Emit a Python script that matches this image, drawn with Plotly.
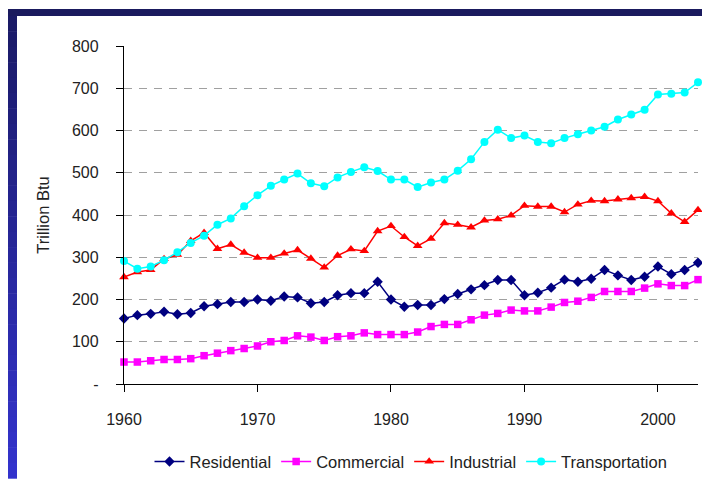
import plotly.graph_objects as go

years = list(range(1960, 2004))

residential = [155, 163, 166, 171, 165, 168, 184, 189, 194, 194,
               200, 197, 207, 205, 191, 194, 210, 215, 215, 242,
               200, 183, 187, 187, 201, 213, 224, 234, 246, 246,
               210, 216, 228, 247, 242, 249, 270, 257, 246, 254,
               278, 260, 270, 287]

commercial = [52, 52, 55, 58, 58, 60, 67, 73, 79, 84,
              90, 100, 103, 114, 111, 103, 112, 114, 121, 117,
              117, 117, 123, 136, 141, 141, 152, 163, 167, 175,
              173, 173, 182, 193, 196, 205, 219, 219, 219, 227,
              237, 233, 233, 247]

industrial = [253, 265, 270, 296, 306, 339, 358, 320, 330, 311,
              299, 299, 309, 317, 297, 276, 304, 319, 315, 362,
              374, 348, 327, 344, 381, 377, 371, 387, 390, 399,
              422, 420, 420, 407, 425, 434, 433, 437, 440, 443,
              433, 404, 384, 412]

transportation = [291, 273, 278, 293, 312, 334, 351, 377, 392, 421,
                  447, 469, 484, 498, 475, 468, 489, 502, 513, 504,
                  484, 484, 466, 477, 484, 505, 532, 573, 602, 582,
                  588, 573, 570, 582, 591, 600, 609, 626, 638, 649,
                  685, 687, 690, 714]

y_tickvals = [0, 100, 200, 300, 400, 500, 600, 700, 800]
y_ticktext = ["-", "100", "200", "300", "400", "500", "600", "700", "800"]
x_tickvals = [1960, 1970, 1980, 1990, 2000]

FONT = "Liberation Sans, Arial, sans-serif"

series = [
    ("Residential", residential, "#000080", "diamond", 8),
    ("Commercial", commercial, "#FF00FF", "square", 7.5),
    ("Industrial", industrial, "#FF0000", "triangle-up", 8.5),
    ("Transportation", transportation, "#00FFFF", "circle", 8),
]

fig = go.Figure()
for name, vals, col, sym, sz in series:
    fig.add_trace(go.Scatter(
        x=years, y=vals, name=name, mode="lines+markers",
        line=dict(color=col, width=1.5),
        marker=dict(color=col, symbol=sym, size=sz, line=dict(width=0)),
        cliponaxis=False,
    ))

W, H = 710, 483
L, R, T, B = 116, 20, 38, 97
pw, ph = W - L - R, H - T - B


def fx(px):
    return (px - L) / pw


def fy(py):
    return (H - B - py) / ph


shapes = []
# top dark bar
shapes.append(dict(type="rect", xref="paper", yref="paper",
                   x0=fx(0), x1=fx(W), y0=fy(7), y1=fy(0),
                   fillcolor="#1a1a5e", line=dict(width=0), layer="below"))
# left gradient bar
n = 30
c0 = (0x1a, 0x1a, 0x66)
c1 = (0x33, 0x33, 0xcc)
for i in range(n):
    t = i / (n - 1)
    c = tuple(int(round(c0[k] + (c1[k] - c0[k]) * t)) for k in range(3))
    y0p = 7 + (H - 7) * i / n
    y1p = 7 + (H - 7) * (i + 1) / n
    shapes.append(dict(type="rect", xref="paper", yref="paper",
                       x0=fx(0), x1=fx(9), y0=fy(y1p + 0.5), y1=fy(y0p),
                       fillcolor="rgb(%d,%d,%d)" % c, line=dict(width=0), layer="below"))

fig.update_layout(
    width=W, height=H,
    margin=dict(l=L, r=R, t=T, b=B, pad=0),
    paper_bgcolor="white", plot_bgcolor="white",
    font=dict(family=FONT, size=16, color="#222222"),
    shapes=shapes,
    showlegend=True,
    legend=dict(orientation="h", x=0.5, xanchor="center", y=fy(466), yanchor="middle",
                font=dict(family=FONT, size=16.5, color="#222222"),
                bgcolor="rgba(0,0,0,0)", itemwidth=30, tracegroupgap=0),
    xaxis=dict(range=[1960, 2003], tickvals=x_tickvals, showgrid=False, zeroline=False,
               showline=True, linecolor="black", linewidth=1.25,
               ticks="outside", ticklen=7, tickcolor="black", tickwidth=1.25,
               ticklabelstandoff=14, tickfont=dict(size=16)),
    yaxis=dict(range=[0, 800], tickvals=y_tickvals, ticktext=y_ticktext,
               showgrid=True, gridcolor="#a0a0a0", griddash="8px,7px", gridwidth=1,
               zeroline=False, showline=True, linecolor="black", linewidth=1.25,
               ticks="outside", ticklen=7, tickcolor="black", tickwidth=1.25,
               ticklabelstandoff=14, tickfont=dict(size=16),
               title=dict(text="Trillion Btu", font=dict(size=16.5), standoff=18)),
)

fig.write_html("out.html")
